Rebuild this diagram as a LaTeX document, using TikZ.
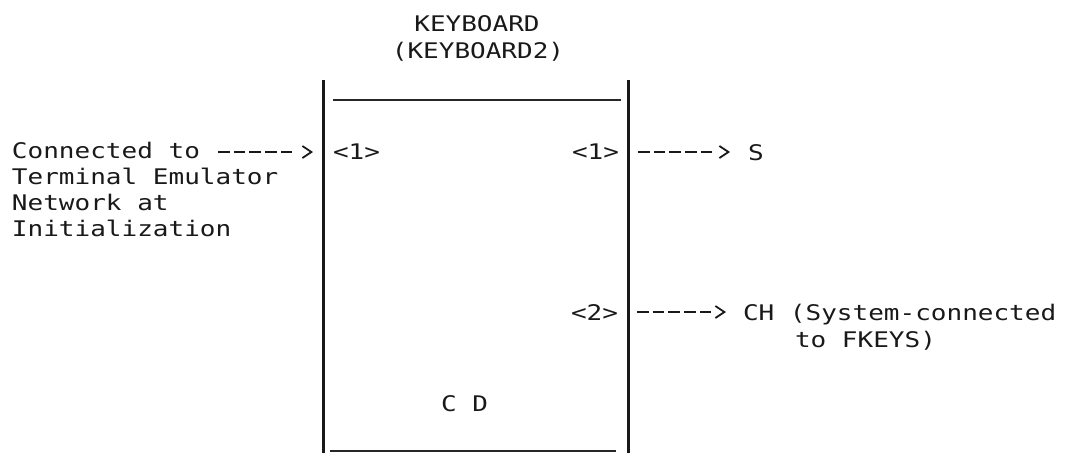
\documentclass[tikz,border=0pt]{standalone}
\usepackage{fontspec}
\newfontfamily\tw[FakeStretch=1.21]{DejaVu Sans Mono}
\usetikzlibrary{arrows.meta}
\begin{document}
\begin{tikzpicture}[x=1pt,y=-1pt,
  txt/.style={inner sep=0pt,outer sep=0pt,anchor=base west,font=\tw\fontsize{21.5}{26}\selectfont,text=black!90},
  ctxt/.style={txt,anchor=base},
  vline/.style={line width=3pt,black!90},
  hline/.style={line width=2pt,black!85},
  conn/.style={line width=1.8pt,black!90,
    dash pattern=on 11.5pt off 4.2pt on 11.5pt off 4.2pt on 11.5pt off 4.2pt on 11.5pt off 4.2pt on 11.5pt off 60pt,
    -{Straight Barb[length=9pt,width=12pt,line width=1.8pt]}}]
\useasboundingbox (0,0) rectangle (1080,453);
% header
\node[ctxt] (title) at (477,31) {KEYBOARD};
\node[ctxt] (subtitle) at (478,58) {(KEYBOARD2)};
% box
\coordinate (btl) at (323,80);
\coordinate (bbl) at (323,453);
\coordinate (btr) at (628,80);
\coordinate (bbr) at (628,453);
\coordinate (ht1) at (333,100);
\coordinate (ht2) at (621,100);
\coordinate (hb1) at (330,451);
\coordinate (hb2) at (616,451);
\draw[vline] (btl) -- (bbl);
\draw[vline] (btr) -- (bbr);
\draw[hline] (ht1) -- (ht2);
\draw[hline] (hb1) -- (hb2);
% left label
\node[txt] (l1) at (12,158) {Connected to};
\node[txt] (l2) at (12,184) {Terminal Emulator};
\node[txt] (l3) at (12,210) {Network at};
\node[txt] (l4) at (12,236) {Initialization};
\coordinate (las) at (218,152);
\coordinate (lae) at (313,152);
\draw[conn] (las) -- (lae);
% ports
\node[txt] (pin1) at (333,159) {<1>};
\node[txt] (pout1) at (572,159) {<1>};
\node[txt] (pout2) at (571,320) {<2>};
\node[txt] (cd) at (441,411) {C D};
% outputs
\node[txt] (S) at (748,160) {S};
\node[txt] (CH) at (743,320) {CH (System-connected};
\node[txt] (CH2) at (795,347) {to FKEYS)};
\coordinate (r1s) at (638,152);
\coordinate (r1e) at (730,152);
\coordinate (r2s) at (637,312);
\coordinate (r2e) at (726,312);
\draw[conn] (r1s) -- (r1e);
\draw[conn] (r2s) -- (r2e);
\end{tikzpicture}
\end{document}
